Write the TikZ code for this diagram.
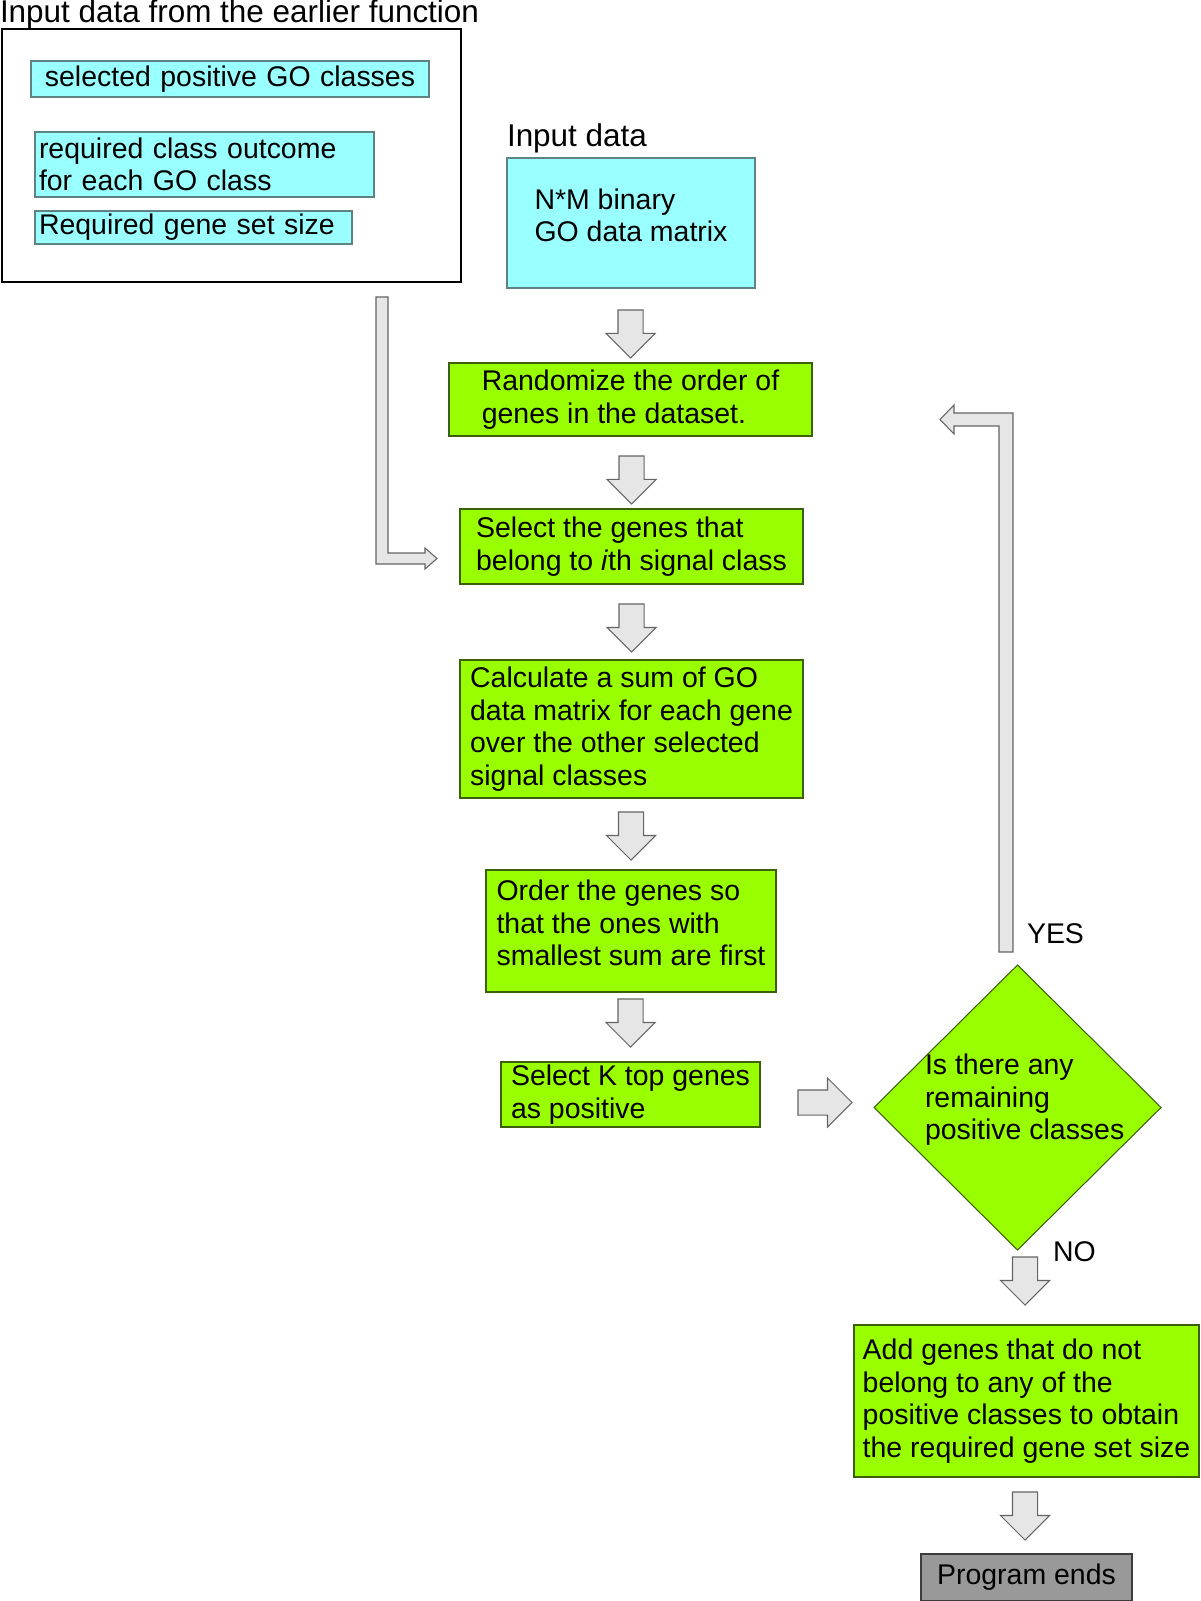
\documentclass[tikz,border=0pt]{standalone}
\usepackage{fontspec}
\setmainfont{Liberation Sans}
\usetikzlibrary{shapes.geometric,shapes.arrows,positioning,calc}
\definecolor{incyan}{RGB}{153,255,255}
\definecolor{cyanedge}{RGB}{95,130,130}
\definecolor{procgreen}{RGB}{153,255,0}
\definecolor{greenedge}{RGB}{60,95,10}
\definecolor{arrowfill}{RGB}{230,230,230}
\definecolor{arrowedge}{RGB}{100,100,100}
\definecolor{endgray}{RGB}{153,153,153}
\definecolor{endedge}{RGB}{60,60,60}
\newlength{\pxu}\setlength{\pxu}{0.02cm}

\begin{document}
\begin{tikzpicture}[x=0.02cm,y=-0.02cm,line width=0.6pt,
  every node/.style={font=\fontsize{16.2}{18.5}\selectfont,outer sep=0pt},
  bigtext/.style={font=\fontsize{17.9}{20}\selectfont,anchor=base west,inner sep=0pt},
  inbox/.style={draw=cyanedge,fill=incyan,anchor=north west,inner ysep=0pt,align=left},
  procbox/.style={draw=greenedge,fill=procgreen,anchor=north west,inner sep=0pt,align=left},
  decision/.style={diamond,draw=greenedge,fill=procgreen,minimum width=287\pxu,minimum height=285\pxu,inner sep=0pt},
  darr/.style={single arrow,draw=arrowedge,fill=arrowfill,shape border rotate=270,anchor=tip,
    inner sep=12\pxu,single arrow head extend=12\pxu,minimum height=48\pxu},
  bentarr/.style={draw=arrowedge,fill=arrowfill}]
  \useasboundingbox (0,0) rectangle (1200,1601);

  % inputs from the earlier function
  \node[bigtext] (title) at (0,22.5) {Input data from the earlier function};
  \node[draw,line width=2.5\pxu,anchor=north west,minimum width=459\pxu,minimum height=253\pxu,inner sep=0pt] (prev) at (2,29) {};
  \node[inbox,align=center,text width=390\pxu,inner xsep=4\pxu,minimum height=36\pxu] (goc) at (31,61) {selected positive GO classes};
  \node[inbox,text width=331\pxu,inner xsep=4\pxu,minimum height=65\pxu] (outc) at (35,132) {required class outcome\\for each GO class};
  \node[inbox,text width=309\pxu,inner xsep=4\pxu,minimum height=33\pxu] (gsize) at (35,211) {Required gene set size};

  \node[bigtext] (inlab) at (507,147) {Input data};
  \node[inbox,inner sep=0pt,minimum width=248\pxu,minimum height=130\pxu,text depth=16\pxu] (gomat) at (507,158) {N*M binary\\GO data matrix};

  % main loop
  \node[procbox,minimum width=363\pxu,minimum height=73\pxu] (rnd) at (449,363) {Randomize the order of\\genes in the dataset.};
  \node[procbox,minimum width=343\pxu,minimum height=75\pxu] (sig) at (460,509) {Select the genes that\\belong to \textit{i}th signal class};
  \node[procbox,minimum width=343\pxu,minimum height=138\pxu] (sum) at (460,660) {Calculate a sum of GO\\data matrix for each gene\\over the other selected\\signal classes};
  \node[procbox,minimum width=290\pxu,minimum height=122\pxu,text depth=16\pxu] (ord) at (486,870) {Order the genes so\\that the ones with\\smallest sum are first};
  \node[procbox,minimum width=259\pxu,minimum height=65\pxu] (topk) at (501,1062) {Select K top genes\\as positive};

  \node[decision] (ask) at (1017.5,1107.5) {};
  \node[anchor=west,inner sep=0pt,align=left] (asktxt) at (925,1100) {Is there any\\remaining\\positive classes};
  \node[anchor=base west,inner sep=0pt] (yes) at (1027,943) {YES};
  \node[anchor=base west,inner sep=0pt] (no) at (1053,1261) {NO};

  \node[procbox,minimum width=345\pxu,minimum height=152\pxu] (addneg) at (854,1325) {Add genes that do not\\belong to any of the\\positive classes to obtain\\the required gene set size};
  \node[draw=endedge,fill=endgray,anchor=north west,minimum width=211\pxu,minimum height=47\pxu,inner sep=0pt] (stop) at (921,1554) {Program ends};

  % block arrows
  \node[darr] (a1) at ([yshift=5\pxu]rnd.north) {};
  \node[darr] (a2) at ([yshift=5\pxu]sig.north) {};
  \node[darr] (a3) at ([yshift=8\pxu]sum.north) {};
  \node[darr] (a4) at ([yshift=10\pxu]ord.north) {};
  \node[darr] (a5) at ([yshift=15\pxu]topk.north) {};
  \node[darr] (a6) at ([xshift=-1.5\pxu,yshift=20\pxu]addneg.north) {};
  \node[darr] (a7) at ([xshift=-1.5\pxu,yshift=14\pxu]stop.north) {};
  \node[darr,shape border rotate=0,minimum height=54\pxu] (a8) at ([xshift=-22\pxu,yshift=5\pxu]ask.west) {};

  % YES goes back up, inputs come in from the left
  \draw[bentarr] (999,952) -- (1013,952) -- (1013,413) -- (954,413) -- (954,405) -- (940,419.5)
    -- (954,434) -- (954,426) -- (999,426) -- cycle;
  \draw[bentarr] (376,297) -- (388,297) -- (388,553) -- (425,553) -- (425,548) -- (437,558.5)
    -- (425,569) -- (425,564) -- (376,564) -- cycle;
\end{tikzpicture}
\end{document}
